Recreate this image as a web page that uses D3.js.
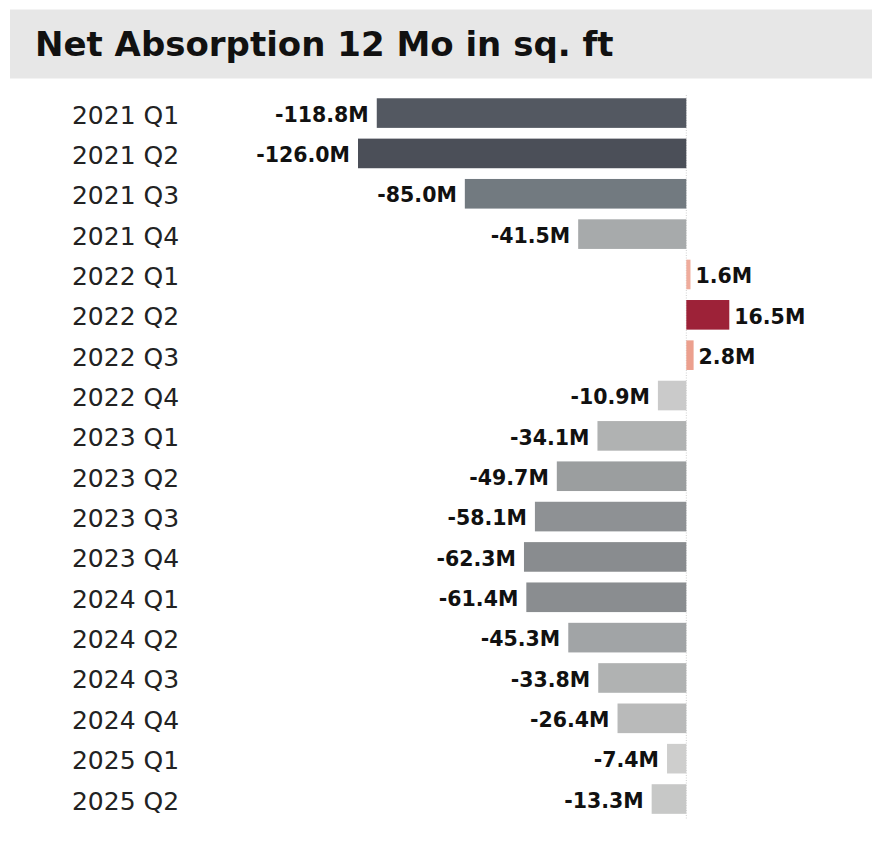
<!DOCTYPE html>
<html>
<head>
<meta charset="utf-8">
<script src="https://cdn.jsdelivr.net/npm/d3@7"></script>
<style>
  html, body { margin: 0; padding: 0; background: #fff; }
  svg { display: block; }
</style>
</head>
<body>
<div id="chart"></div>
<script>
const quarters = [
  "2021 Q1", "2021 Q2", "2021 Q3", "2021 Q4",
  "2022 Q1", "2022 Q2", "2022 Q3", "2022 Q4",
  "2023 Q1", "2023 Q2", "2023 Q3", "2023 Q4",
  "2024 Q1", "2024 Q2", "2024 Q3", "2024 Q4",
  "2025 Q1", "2025 Q2",
];

// net absorption, millions of sq. ft
const net_absorption = [
  -118.8, -126.0, -85.0, -41.5,
  1.6, 16.5, 2.8, -10.9,
  -34.1, -49.7, -58.1, -62.3,
  -61.4, -45.3, -33.8, -26.4,
  -7.4, -13.3,
];

const title_text = "Net Absorption 12 Mo in sq. ft";

function format_value(v) {
  return `${v.toFixed(1)}M`;
}

function build_chart(svg, data) {
  const width = 884;
  const height = 858;

  // title band
  svg
    .append("rect")
    .attr("x", 10)
    .attr("y", 9.5)
    .attr("width", 862)
    .attr("height", 69)
    .attr("fill", "#e7e7e7");

  svg
    .append("text")
    .attr("x", 35)
    .attr("y", 56)
    .style("font-family", "'DejaVu Sans', sans-serif")
    .style("font-weight", "bold")
    .style("font-size", "34px")
    .style("fill", "#111")
    .text(title_text);

  const x = d3
    .scaleLinear()
    .domain([d3.min(data, (d) => d.value), d3.max(data, (d) => d.value)])
    .range([358, 729.3]);

  const y = d3
    .scaleBand()
    .domain(data.map((d) => d.quarter))
    .range([92.9, 819.2])
    .paddingInner(0.266)
    .paddingOuter(0.133);

  // negatives go dark slate -> light gray, positives salmon -> crimson
  const neg_color = d3
    .scaleLinear()
    .domain([-126, -118.8, -85, -60, -41.5, -26, 0])
    .range(["#4b4f58", "#535861", "#727a80", "#8b8e91", "#a7aaab", "#b9baba", "#d6d6d5"]);
  const pos_color = d3
    .scaleLinear()
    .domain([0, 2.8, 16.5])
    .range(["#f4bcae", "#eca08e", "#9d2238"]);
  const color = (v) => (v < 0 ? neg_color(v) : pos_color(v));

  // zero line
  svg
    .append("line")
    .attr("x1", x(0))
    .attr("x2", x(0))
    .attr("y1", 95)
    .attr("y2", 820)
    .attr("stroke", "#cfcfcf")
    .attr("stroke-width", 1)
    .attr("stroke-dasharray", "1,1.5");

  svg
    .append("g")
    .selectAll("rect")
    .data(data)
    .enter()
    .append("rect")
    .attr("x", (d) => Math.min(x(d.value), x(0)))
    .attr("y", (d) => y(d.quarter))
    .attr("width", (d) => Math.abs(x(d.value) - x(0)))
    .attr("height", y.bandwidth())
    .attr("fill", (d) => color(d.value));

  // category labels
  svg
    .append("g")
    .selectAll("text")
    .data(data)
    .enter()
    .append("text")
    .attr("x", 125.5)
    .attr("y", (d) => y(d.quarter) + y.bandwidth() / 2 + 10.5)
    .attr("text-anchor", "middle")
    .style("font-family", "'DejaVu Sans', sans-serif")
    .style("font-size", "25px")
    .style("fill", "#222")
    .text((d) => d.quarter);

  // value labels
  svg
    .append("g")
    .selectAll("text")
    .data(data)
    .enter()
    .append("text")
    .attr("x", (d) => (d.value < 0 ? x(d.value) - 8 : x(d.value) + 5))
    .attr("y", (d) => y(d.quarter) + y.bandwidth() / 2 + 8.7)
    .attr("text-anchor", (d) => (d.value < 0 ? "end" : "start"))
    .style("font-family", "'DejaVu Sans', sans-serif")
    .style("font-weight", "bold")
    .style("font-size", "20.5px")
    .style("fill", "#111")
    .text((d) => format_value(d.value));
}

const rows = quarters.map((q, i) => ({ quarter: q, value: net_absorption[i] }));

const svg = d3
  .select("#chart")
  .append("svg")
  .attr("width", 884)
  .attr("height", 858);

build_chart(svg, rows);
</script>
</body>
</html>
